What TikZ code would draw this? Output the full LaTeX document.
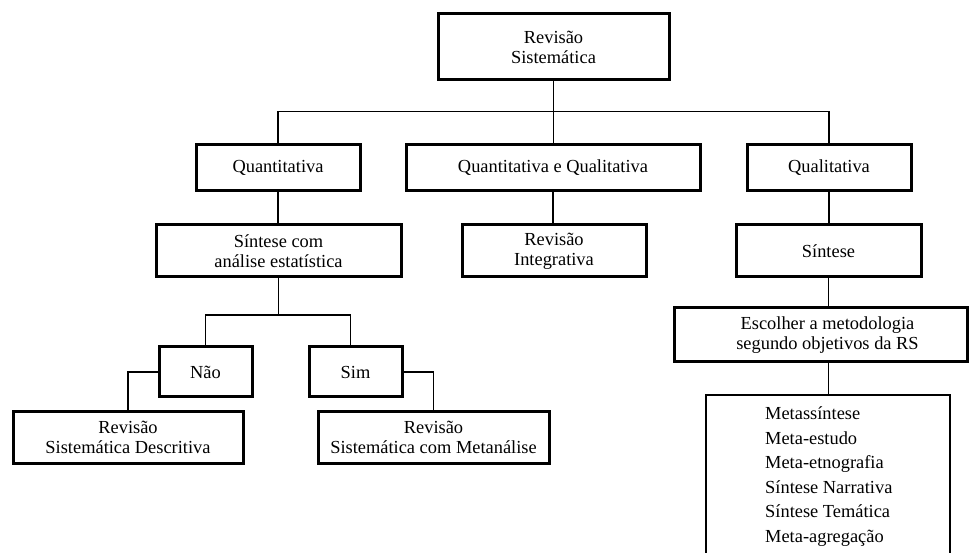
\documentclass[tikz,border=0pt]{standalone}
\usepackage{fontspec}
\setmainfont{Liberation Serif}
\begin{document}
\begin{tikzpicture}[x=1pt,y=-1pt,
  box/.style={draw, line width=3pt, inner sep=0pt, align=center,
    font=\fontsize{18.4}{20}\selectfont},
  link/.style={line width=1.3pt},
  item/.style={anchor=base west, inner sep=0pt, font=\fontsize{18.4}{20}\selectfont}]
\useasboundingbox (0,0) rectangle (970,553);

% level 0
\node[box, minimum width=231pt, minimum height=66pt] (top) at (553.5,47) {Revisão\\Sistemática};

% level 1
\node[box, minimum width=164pt, minimum height=46pt] (quant) at (278,168) {Quantitativa};
\node[box, minimum width=294pt, minimum height=46pt] (qq) at (553,168) {Quantitativa e Qualitativa};
\node[box, minimum width=164pt, minimum height=46pt] (qual) at (829,168) {Qualitativa};

% level 2
\node[box, minimum width=245pt, minimum height=52pt] (sintest) at (278.5,251) {Síntese com\\análise estatística};
\node[box, minimum width=184pt, minimum height=52pt] (integ) at (554,251) {Revisão\\Integrativa};
\node[box, minimum width=185pt, minimum height=52pt] (sint) at (828.5,251) {Síntese};

% quantitative branch
\node[box, minimum width=93pt, minimum height=50pt] (nao) at (205.5,372) {Não};
\node[box, minimum width=93pt, minimum height=50pt] (sim) at (355.5,372) {Sim};
\node[box, minimum width=230pt, minimum height=51pt] (rsd) at (128,437.5) {Revisão\\Sistemática Descritiva};
\node[box, minimum width=231pt, minimum height=51pt] (rsm) at (433.5,437.5) {Revisão\\Sistemática com Metanálise};

% qualitative branch
\node[box, minimum width=293pt, minimum height=54pt] (esc) at (820.5,335) {\hspace*{14pt}Escolher a metodologia\\\hspace*{14pt}segundo objetivos da RS};
\begin{scope}
  \clip (0,0) rectangle (970,553);
  \node[draw, line width=1.3pt, inner sep=0pt, minimum width=244pt, minimum height=180pt] (met) at (828,485) {};
\end{scope}
\node[item] (m1) at (765,420.0) {Metassíntese};
\node[item] (m2) at (765,444.4) {Meta-estudo};
\node[item] (m3) at (765,468.8) {Meta-etnografia};
\node[item] (m4) at (765,493.2) {Síntese Narrativa};
\node[item] (m5) at (765,517.6) {Síntese Temática};
\node[item] (m6) at (765,542.0) {Meta-agregação};

% connectors
\draw[link] (top.south) -- (top.south |- qq.north);
\draw[link] (quant.north) -- ++(0,-32) -| (qual.north);
\draw[link] (quant.south) -- (quant.south |- sintest.north);
\draw[link] (qq.south) -- (qq.south |- integ.north);
\draw[link] (qual.south) -- (qual.south |- sint.north);
\draw[link] (sintest.south) -- ++(0,36.6) coordinate (fork);
\draw[link] (nao.north) |- (fork) -| ([xshift=-5pt]sim.north);
\draw[link] (nao.west) -| (rsd.north);
\draw[link] (sim.east) -| (rsm.north);
\draw[link] (sint.south) -- (sint.south |- esc.north);
\draw[link] (esc.south -| sint.south) -- (sint.south |- met.north);
\end{tikzpicture}
\end{document}
